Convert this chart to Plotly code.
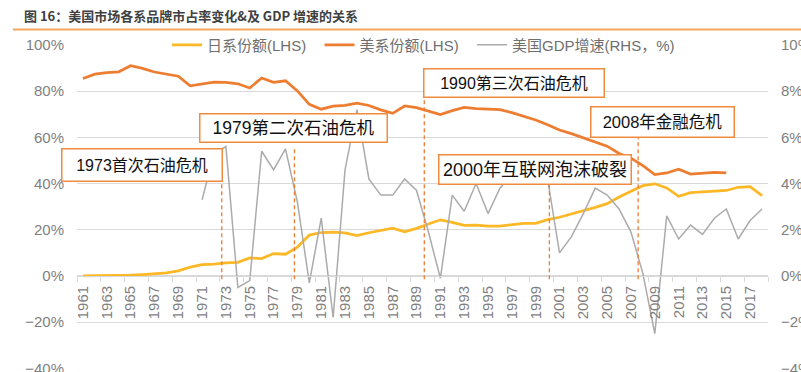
import plotly.graph_objects as go

# ---------------- data ----------------
years = list(range(1961, 2019))
japan_share = [0.0, 0.0, 0.0, 0.1, 0.3, 0.6, 0.9, 1.3, 2.2, 3.8,
               4.9, 5.1, 5.7, 5.9, 7.8, 7.5, 9.7, 9.4, 12.5, 17.7,
               18.8, 19.0, 18.6, 17.5, 18.7, 19.7, 20.7, 19.1, 20.6, 22.5,
               24.3, 23.2, 21.9, 22.0, 21.6, 21.6, 22.3, 22.8, 22.8, 24.4,
               25.4, 26.8, 28.0, 29.7, 31.3, 34.2, 36.7, 39.1, 39.9, 38.1,
               34.5, 36.1, 36.4, 36.7, 37.0, 38.4, 38.7, 34.8]
us_share = [85.5, 87.4, 88.0, 88.4, 91.0, 89.9, 88.3, 87.5, 86.5, 82.3,
            83.2, 83.9, 83.8, 83.2, 81.4, 85.7, 83.8, 84.5, 80.1, 74.3,
            72.2, 73.5, 73.9, 74.8, 73.8, 71.9, 70.4, 73.6, 72.9, 71.3,
            69.9, 71.6, 73.0, 72.5, 72.3, 72.0, 70.7, 69.1, 67.5, 65.5,
            63.2, 61.6, 59.9, 58.0, 56.2, 53.0, 51.0, 47.8, 43.9, 44.6,
            46.2, 44.1, 44.6, 44.8, 44.6, None, None, None]
gdp_years = list(range(1971, 2019))
us_gdp = [3.3, 5.3, 5.6, -0.5, -0.2, 5.4, 4.6, 5.5, 3.2, -0.3,
          2.5, -1.8, 4.6, 7.2, 4.2, 3.5, 3.5, 4.2, 3.7, 1.9,
          -0.1, 3.5, 2.8, 4.0, 2.7, 3.8, 4.4, 4.5, 4.7, 4.2,
          1.0, 1.7, 2.7, 3.8, 3.5, 2.9, 1.9, 0.1, -2.5, 2.6,
          1.6, 2.2, 1.8, 2.5, 2.9, 1.6, 2.4, 2.9]
tick_years = list(range(1961, 2019, 2))
series_names = ["日系份额(LHS)", "美系份额(LHS)", "美国GDP增速(RHS，%)"]

crisis_labels = ["1973首次石油危机", "1979第二次石油危机", "1990第三次石油危机",
                 "2000年互联网泡沫破裂", "2008年金融危机"]
crisis_line_x = [1972.65, 1978.75, 1989.65, 2000.15, 2007.6]
crisis_line_top = [41.4, 55.6, 77.7, 40.0, 60.2]
crisis_line_bottom = -1.4

title_text = "图 16：美国市场各系品牌市占率变化&及 GDP 增速的关系"

# ---------------- layout helpers ----------------
W, H = 801, 372
PL, PR, PT, PB = 77, 768, 45, 369
def fx(px):
    return (px - PL) / (PR - PL)
def fy(py):
    return (PB - py) / (PB - PT)

FONT = "Liberation Sans, Arial, Noto Sans CJK SC, sans-serif"
C_YEL = "#FDB827"
C_ORG = "#ED7D31"
C_GRY = "#ABABAB"
C_TXT = "#7F7F7F"
C_GRID = "#D9D9D9"

Y_LO, Y_HI = -40.3, 100
Y2_LO, Y2_HI = -4.03, 10

NB = "\u00a0"
legend_names = [series_names[0] + NB * 2, series_names[1] + NB * 2, series_names[2]]

fig = go.Figure()
fig.add_trace(go.Scatter(x=years, y=japan_share, name=legend_names[0], mode="lines",
                         line=dict(color=C_YEL, width=2.75), yaxis="y"))
fig.add_trace(go.Scatter(x=years, y=us_share, name=legend_names[1], mode="lines",
                         line=dict(color=C_ORG, width=2.75), yaxis="y"))
fig.add_trace(go.Scatter(x=gdp_years, y=us_gdp, name=legend_names[2], mode="lines",
                         line=dict(color=C_GRY, width=1.5), yaxis="y2"))

shapes = []
for lx, top in zip(crisis_line_x, crisis_line_top):
    shapes.append(dict(type="line", xref="x", yref="y", x0=lx, x1=lx,
                       y0=crisis_line_bottom, y1=top,
                       line=dict(color=C_ORG, width=1.3, dash="4px,3px")))
# title underline
shapes.append(dict(type="line", xref="paper", yref="paper", x0=fx(13), x1=fx(801),
                   y0=fy(29.5), y1=fy(29.5), line=dict(color="#F6A55E", width=2)))

boxes = [
    (142.4, 164.7, 161, 33, 16),
    (293.3, 127.8, 188, 29, 17.5),
    (513.6, 83.2, 181, 29, 16),
    (534.7, 169.2, 193, 30, 18),
    (662.1, 122.0, 144, 31, 16.5),
]
annotations = []
for label, (cx, cy, w, h, fs) in zip(crisis_labels, boxes):
    annotations.append(dict(text=label, xref="paper", yref="paper", x=fx(cx), y=fy(cy),
                            xanchor="center", yanchor="middle", showarrow=False,
                            width=w - 2, height=h - 2, borderpad=0, borderwidth=1.5,
                            bordercolor="#F08A3E", bgcolor="white",
                            font=dict(family=FONT, size=fs, color="#111111")))
annotations.append(dict(text="<b>" + title_text + "</b>", xref="paper", yref="paper",
                        x=fx(22), y=fy(15), xanchor="left", yanchor="middle",
                        showarrow=False,
                        font=dict(family="Noto Sans CJK SC, sans-serif", size=13, color="#404040")))

fig.update_layout(
    width=W, height=H,
    margin=dict(l=PL, r=W - PR, t=PT, b=H - PB, autoexpand=False),
    paper_bgcolor="white", plot_bgcolor="white",
    font=dict(family=FONT, size=15, color=C_TXT),
    showlegend=True,
    legend=dict(orientation="h", x=fx(167), xanchor="left", y=fy(45), yanchor="middle",
                bgcolor="rgba(0,0,0,0)", font=dict(size=15, color="#6F6F6F"),
                itemwidth=30, tracegroupgap=0),
    xaxis=dict(range=[1960.5, 2018.5], tickmode="array", tickvals=tick_years,
               ticktext=[str(y) for y in tick_years], tickangle=-90,
               anchor="free", position=(0 - Y_LO) / (Y_HI - Y_LO),
               showgrid=False, zeroline=False,
               showline=True, linecolor=C_GRID, linewidth=1,
               ticks="", ticklabelstandoff=3, tickfont=dict(size=15, color=C_TXT),
               minor=dict(tickmode="linear", tick0=1960.5, dtick=2, ticks="outside",
                          ticklen=5, tickcolor=C_GRID, showgrid=False)),
    yaxis=dict(range=[Y_LO, Y_HI], tickmode="linear", tick0=-40, dtick=20, ticksuffix="%",
               showgrid=True, gridcolor=C_GRID, gridwidth=1, zeroline=False,
               showline=False, ticks="", ticklabelstandoff=12, ticklabeloverflow="allow",
               tickfont=dict(size=15, color=C_TXT)),
    yaxis2=dict(range=[Y2_LO, Y2_HI], tickmode="linear", tick0=-4, dtick=2, ticksuffix="%",
                overlaying="y", side="right", showgrid=False, zeroline=False,
                showline=False, ticks="", ticklabelstandoff=12, ticklabeloverflow="allow",
                tickfont=dict(size=15, color=C_TXT)),
    shapes=shapes,
    annotations=annotations,
)

fig.write_html("out.html", config={"displayModeBar": False},
               post_script="document.body.style.margin='0px';document.body.style.padding='0px';")
